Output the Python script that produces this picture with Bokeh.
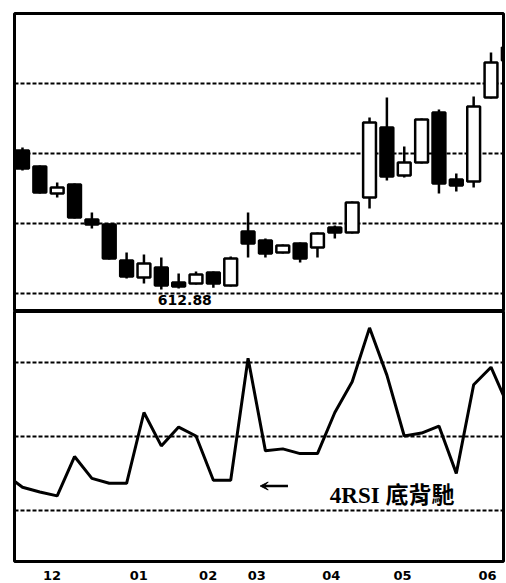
from bokeh.plotting import figure
from bokeh.layouts import column
from bokeh.models import FixedTicker, Range1d, Arrow, VeeHead, ColumnDataSource
from bokeh.core.properties import value
from bokeh.embed import file_html
from bokeh.resources import INLINE

# ---- data (weekly candles) ----
week = list(range(29))
opens = [712.1, 700.7, 681.4, 687.9, 662.9, 659.3, 633.6, 621.4, 628.6, 617.9,
         617.1, 625.0, 615.7, 654.3, 647.9, 639.3, 645.7, 642.9, 657.1, 653.6,
         678.6, 728.6, 694.3, 703.6, 739.3, 691.4, 690.0, 750.0, 785.7]
highs = [714.3, 701.4, 689.3, 688.6, 667.9, 660.0, 639.3, 637.9, 635.7, 624.3,
         625.7, 625.7, 636.4, 667.9, 649.3, 645.0, 646.4, 653.6, 658.6, 675.7,
         735.7, 750.0, 715.0, 735.0, 741.4, 695.7, 750.7, 782.1, 787.1]
lows = [697.9, 681.4, 678.6, 663.6, 656.4, 634.3, 620.7, 617.1, 612.88, 613.5,
        616.4, 614.0, 615.0, 635.7, 635.7, 638.6, 632.1, 635.7, 649.3, 652.9,
        670.7, 690.7, 692.9, 702.9, 681.4, 682.9, 685.7, 749.3, 775.0]
closes = [699.3, 682.1, 685.7, 664.3, 659.3, 635.0, 622.1, 631.4, 615.7, 615.0,
          623.6, 617.1, 635.0, 645.7, 638.6, 644.3, 635.0, 652.9, 653.6, 675.0,
          732.1, 693.6, 703.6, 734.3, 688.6, 687.1, 743.6, 775.0, 776.4]

rsi_week = list(range(-1, 29))
rsi = [34.7, 29.5, 27.6, 26.0, 41.9, 33.1, 31.1, 31.1, 59.7, 46.2,
       53.8, 50.2, 32.3, 32.3, 81.6, 44.2, 45.0, 43.1, 43.1, 59.7,
       72.1, 93.9, 74.8, 50.2, 51.4, 54.2, 35.1, 70.9, 78.0, 62.1]

month_pos = [1.7, 6.7, 10.7, 13.5, 17.8, 21.9, 26.8]
month_labels = ["12", "01", "02", "03", "04", "05", "06"]
price_grid = [610, 660, 710, 760]
rsi_grid = [20, 50, 80]

low_week = 8
low_price = 612.88
low_label = "612.88"
note = "4RSI 底背馳"
note_pos = (21.3, 26.0)
arrow_from = (15.3, 30.0)
arrow_to = (13.7, 30.0)

# ---- styling helpers ----
def style(p):
    p.xgrid.visible = False
    p.yaxis.visible = False
    p.outline_line_color = "black"
    p.outline_line_width = 3
    p.outline_line_alpha = 1.0
    p.ygrid.grid_line_color = "black"
    p.ygrid.grid_line_width = 2
    p.ygrid.grid_line_dash = "4 2"
    p.background_fill_color = "white"
    p.border_fill_color = "white"

xr = Range1d(-0.46, 27.72)

top = figure(width=505, height=311, x_range=xr, y_range=Range1d(597.1, 810.0),
             output_backend="svg", toolbar_location=None,
             min_border_left=14, min_border_right=2, min_border_top=13, min_border_bottom=0)
style(top)
top.xaxis.visible = False
top.ygrid.ticker = FixedTicker(ticks=price_grid)

body_top = [max(o, c) for o, c in zip(opens, closes)]
body_bot = [min(o, c) for o, c in zip(opens, closes)]
fills = ["white" if c > o else "black" for o, c in zip(opens, closes)]
src = ColumnDataSource(dict(week=week, high=highs, low=lows, top=body_top,
                            bottom=body_bot, fill=fills))
top.segment(x0="week", y0="low", x1="week", y1="high", source=src,
            line_color="black", line_width=2.5)
top.vbar(x="week", width=0.74, top="top", bottom="bottom", source=src,
         fill_color="fill", line_color="black", line_width=2.5)
top.text(x=[low_week - 0.2], y=[low_price - 4], text=[low_label],
         text_baseline="top", text_align="left", text_font=value("DejaVu Sans"),
         text_font_style="bold", text_font_size="14px", text_color="black")

bot = figure(width=505, height=271, x_range=xr, y_range=Range1d(-0.5, 100.5),
             output_backend="svg", toolbar_location=None,
             min_border_left=14, min_border_right=2, min_border_top=0, min_border_bottom=17)
style(bot)
bot.ygrid.ticker = FixedTicker(ticks=rsi_grid)
bot.xaxis.ticker = FixedTicker(ticks=month_pos)
bot.xaxis.major_label_overrides = {p: l for p, l in zip(month_pos, month_labels)}
bot.xaxis.axis_line_color = None
bot.xaxis.major_tick_line_color = None
bot.xaxis.minor_tick_line_color = None
bot.xaxis.major_label_standoff = 3
bot.xaxis.major_label_text_font = "DejaVu Sans"
bot.xaxis.major_label_text_font_style = "bold"
bot.xaxis.major_label_text_font_size = "13px"
bot.xaxis.major_label_text_color = "black"

bot.line(rsi_week, rsi, line_color="black", line_width=3)
bot.add_layout(Arrow(end=VeeHead(size=8, line_color="black", fill_color="black", line_width=1),
                     x_start=arrow_from[0], y_start=arrow_from[1],
                     x_end=arrow_to[0], y_end=arrow_to[1],
                     line_color="black", line_width=2.5))
bot.text(x=[note_pos[0]], y=[note_pos[1]], text=[note], text_align="center",
         text_baseline="middle",
         text_font=value("'Liberation Serif', 'Noto Sans CJK TC'"),
         text_font_style="bold", text_font_size="23px", text_color="black")

layout = column(top, bot, spacing=0)
open("out.html", "w").write(file_html(layout, INLINE))
